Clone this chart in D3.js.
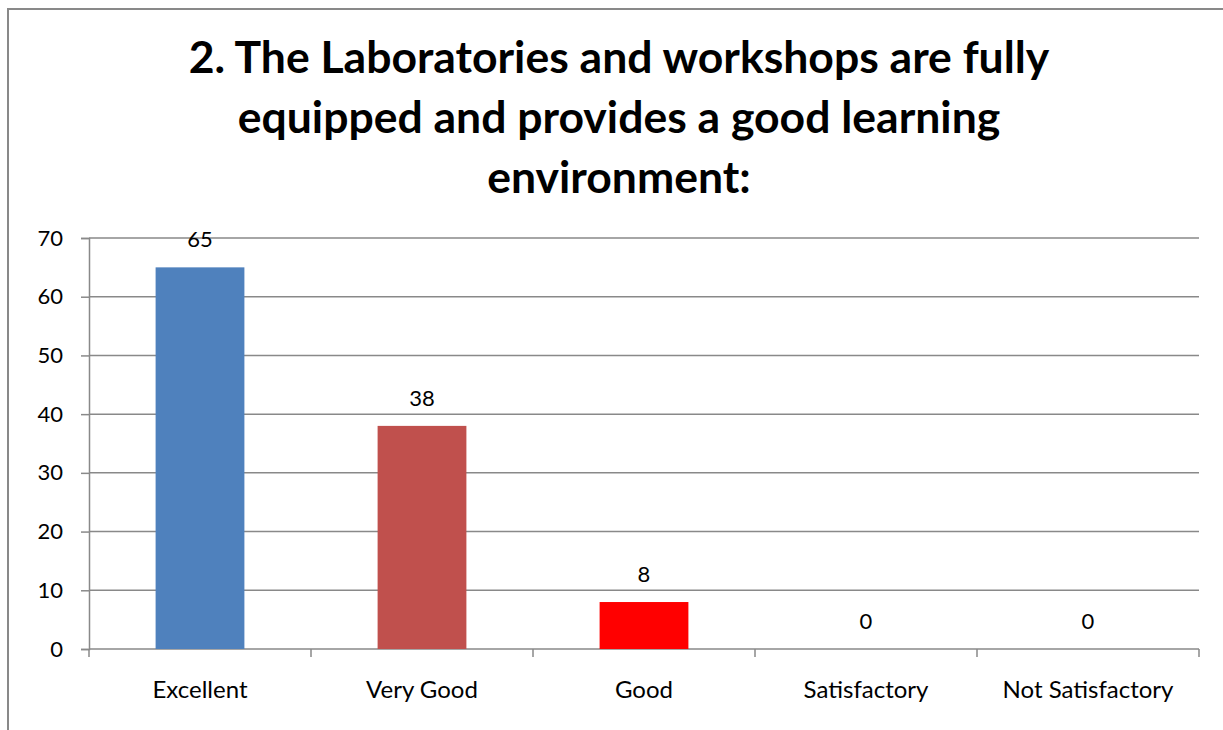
<!DOCTYPE html>
<html><head><meta charset="utf-8">
<script src="https://cdn.jsdelivr.net/npm/d3@7"></script>
<style>html,body{margin:0;padding:0;background:#fff;overflow:hidden}</style>
</head><body>
<svg id="chart" width="1223" height="730"></svg>
<script>
const titleLines = ["2. The Laboratories and workshops are fully", "equipped and provides a good learning", "environment:"];
const categories = ["Excellent", "Very Good", "Good", "Satisfactory", "Not Satisfactory"];
const values = [65, 38, 8, 0, 0];
const barColors = ["#4F81BD", "#C0504D", "#FF0000", "#4F81BD", "#4F81BD"];
const yTicks = [0, 10, 20, 30, 40, 50, 60, 70];

(function () {
const font = "Lato, 'Open Sans', sans-serif";
const svg = d3.select("#chart");
const grid = "#898989";

svg.append("rect").attr("x", 8).attr("y", 9).attr("width", 1400).attr("height", 900)
  .attr("fill", "#fff").attr("stroke", grid).attr("stroke-width", 2);

const pLeft = 89, pRight = 1199, pTop = 238, pBottom = 649;
const x = d3.scaleBand().domain(categories).range([pLeft, pRight]).paddingInner(0.6).paddingOuter(0.3);
const xb = d3.scaleBand().domain(categories).range([pLeft, pRight]);
const y = d3.scaleLinear().domain([0, 70]).range([pBottom, pTop]);

// title
svg.append("g").selectAll("text").data(titleLines).join("text")
  .attr("x", 619).attr("y", (d, i) => 73 + i * 60)
  .attr("text-anchor", "middle").attr("font-family", font).attr("font-weight", "bold")
  .attr("font-size", 44.5).attr("fill", "#000").text(d => d);

// gridlines
svg.append("g").selectAll("line").data(yTicks.filter(d => d > 0)).join("line")
  .attr("x1", pLeft).attr("x2", pRight).attr("y1", d => y(d)).attr("y2", d => y(d))
  .attr("stroke", grid).attr("stroke-width", 1.5);

// y axis
const yAxis = svg.append("g").attr("transform", `translate(${pLeft},0)`)
  .call(d3.axisLeft(y).tickValues(yTicks).tickSize(8).tickPadding(18).tickFormat(d3.format("d")));
yAxis.select(".domain").attr("stroke", grid).attr("stroke-width", 1.5);
yAxis.selectAll(".tick line").attr("stroke", grid).attr("stroke-width", 1.5);
yAxis.selectAll(".tick text").attr("font-family", font).attr("font-size", 22).attr("fill", "#000");

// x axis
const xAxis = svg.append("g").attr("transform", `translate(0,${pBottom})`)
  .call(d3.axisBottom(xb).tickSize(0).tickPadding(32));
xAxis.select(".domain").remove();
xAxis.selectAll(".tick text").attr("font-family", font).attr("font-size", 24).attr("fill", "#000");
svg.append("line").attr("x1", pLeft).attr("x2", pRight).attr("y1", pBottom).attr("y2", pBottom)
  .attr("stroke", grid).attr("stroke-width", 1.5);
svg.append("g").selectAll("line").data(categories.map(c => xb(c)).concat([pRight])).join("line")
  .attr("x1", d => d).attr("x2", d => d).attr("y1", pBottom).attr("y2", pBottom + 8)
  .attr("stroke", grid).attr("stroke-width", 1.5);

// bars
svg.append("g").selectAll("rect").data(categories).join("rect")
  .attr("x", d => x(d)).attr("width", x.bandwidth())
  .attr("y", (d, i) => y(values[i])).attr("height", (d, i) => y(0) - y(values[i]))
  .attr("fill", (d, i) => barColors[i]);

// data labels
svg.append("g").selectAll("text").data(categories).join("text")
  .attr("x", d => xb(d) + xb.bandwidth() / 2)
  .attr("y", (d, i) => y(values[i]) - 20)
  .attr("text-anchor", "middle").attr("font-family", font).attr("font-size", 22).attr("fill", "#000")
  .text((d, i) => values[i]);
})();
</script>
</body></html>
